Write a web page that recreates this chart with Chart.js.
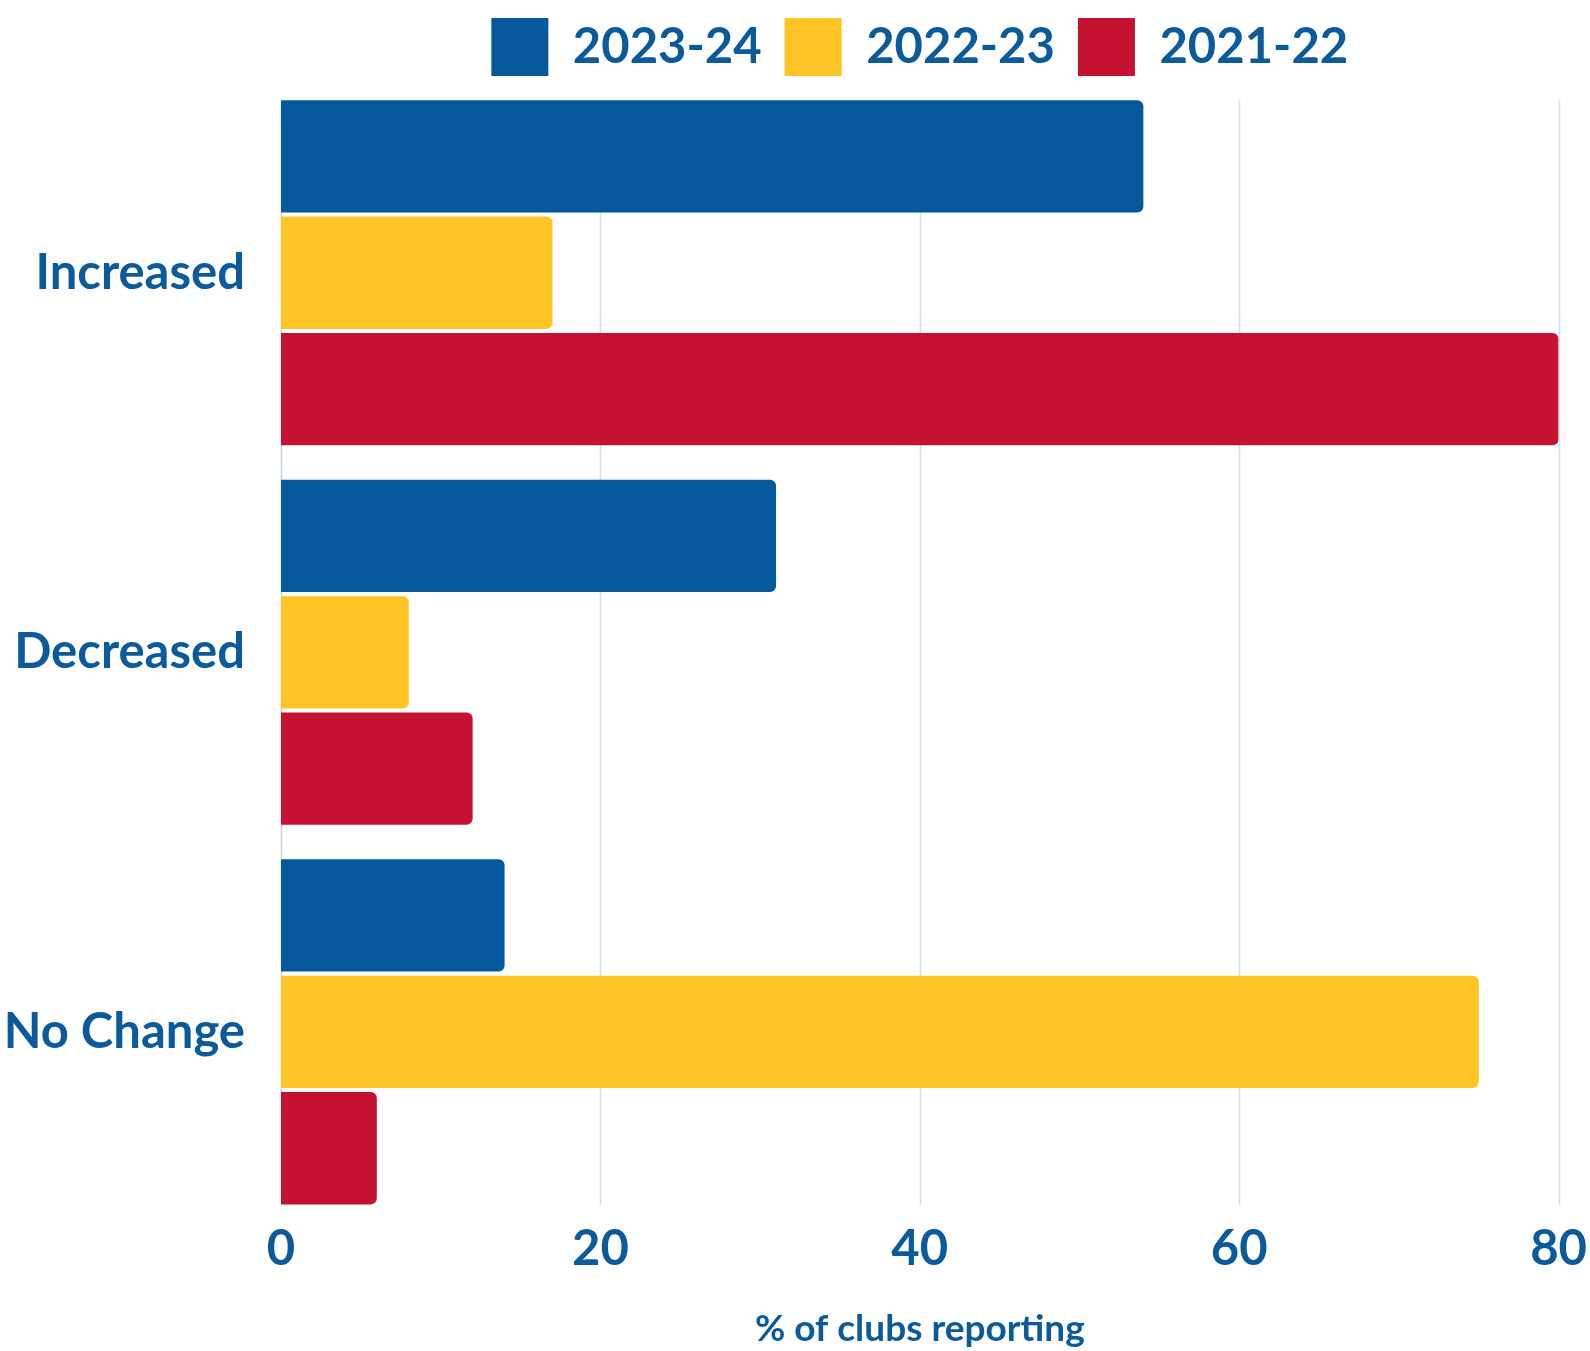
<!DOCTYPE html>
<html>
<head>
<meta charset="utf-8">
<script src="https://cdn.jsdelivr.net/npm/chart.js@4.4.1/dist/chart.umd.min.js"></script>
<style>
  body { margin: 0; background: #fff; }
  #wrap { width: 1590px; height: 1351px; position: relative; }
</style>
</head>
<body>
<div id="wrap"><canvas id="myChart"></canvas></div>
<script>
// categories and series
const categories = ['Increased', 'Decreased', 'No Change'];
const seriesNames = ['2023-24', '2022-23', '2021-22'];
const values2324 = [54, 31, 14];
const values2223 = [17, 8, 75];
const values2122 = [80, 12, 6];
const xTicks = [0, 20, 40, 60, 80];

const textBlue = '#0B5A9B';
const gridBlue = '#CFE0EE';

// legend sits closer to the plot
const legendFit = {
    id: 'legendFit',
    beforeInit(chart) {
        const fitValue = chart.legend.fit;
        chart.legend.fit = function fit() {
            fitValue.bind(chart.legend)();
            this.height -= 3;
        };
    }
};

// vertical grid lines only as tall as the bars
const barGrid = {
    id: 'barGrid',
    beforeDatasetsDraw(chart) {
        const first = chart.getDatasetMeta(0).data[0];
        const lastMeta = chart.getDatasetMeta(chart.data.datasets.length - 1);
        const last = lastMeta.data[lastMeta.data.length - 1];
        const top = first.y - first.height / 2;
        const bottom = last.y + last.height / 2;
        const xScale = chart.scales.x;
        const c = chart.ctx;
        c.save();
        c.lineWidth = 1.5;
        xTicks.forEach(v => {
            const x = Math.round(xScale.getPixelForValue(v)) + 0.5;
            c.strokeStyle = v === 0 ? '#C3D2DF' : gridBlue;
            c.beginPath();
            c.moveTo(x, top);
            c.lineTo(x, bottom);
            c.stroke();
        });
        c.restore();
    }
};

const ctx = document.getElementById('myChart').getContext('2d');
const myChart = new Chart(ctx, {
    type: 'bar',
    data: {
        labels: categories,
        datasets: [
            { label: seriesNames[0], data: values2324, backgroundColor: '#03599C' },
            { label: seriesNames[1], data: values2223, backgroundColor: '#FFC425' },
            { label: seriesNames[2], data: values2122, backgroundColor: '#C41230' }
        ]
    },
    plugins: [legendFit, barGrid],
    options: {
        indexAxis: 'y',
        responsive: true,
        maintainAspectRatio: false,
        animation: false,
        layout: { padding: { left: 0, right: -13, top: -5, bottom: 0 } },
        datasets: {
            bar: {
                categoryPercentage: 0.92,
                barPercentage: 0.965,
                borderRadius: 6,
                borderSkipped: 'start'
            }
        },
        plugins: {
            legend: {
                position: 'top',
                fullSize: false,
                labels: {
                    boxWidth: 57,
                    boxHeight: 58,
                    padding: 23,
                    color: textBlue,
                    font: { family: 'Lato', size: 49, weight: 'bold' }
                }
            },
            tooltip: { enabled: false }
        },
        scales: {
            x: {
                min: 0,
                max: 80,
                afterBuildTicks: function (axis) {
                    axis.ticks = xTicks.map(v => ({ value: v }));
                },
                grid: { display: false, drawTicks: false },
                border: { display: false },
                ticks: {
                    color: textBlue,
                    padding: 3,
                    font: { family: 'Lato', size: 49, weight: 'bold', lineHeight: 1 }
                },
                title: {
                    display: true,
                    text: '% of clubs reporting',
                    color: textBlue,
                    padding: { top: 30, bottom: 0 },
                    font: { family: 'Lato', size: 37, weight: 'bold' }
                }
            },
            y: {
                afterFit: function (axis) {
                    axis.width = 281;
                },
                grid: { display: false, drawTicks: false },
                border: { display: false },
                ticks: {
                    color: textBlue,
                    padding: 36,
                    font: { family: 'Lato', size: 49, weight: 'bold' }
                }
            }
        }
    }
});
</script>
</body>
</html>
